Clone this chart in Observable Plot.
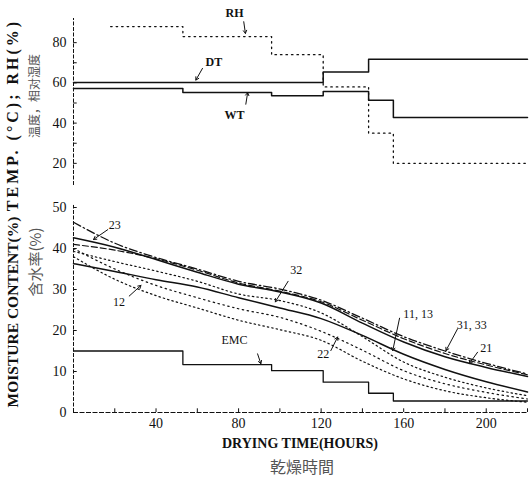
<!DOCTYPE html>
<html><head><meta charset="utf-8">
<script src="https://cdn.jsdelivr.net/npm/d3@7"></script>
<script src="https://cdn.jsdelivr.net/npm/@observablehq/plot@0.6"></script>
<style>
body{margin:0;background:#fff;}
#wrap{position:relative;width:529px;height:478px;overflow:hidden;background:#fff;font-family:"Liberation Serif",serif;color:#111;}
#wrap svg{overflow:visible;}
.abs{position:absolute;}
.vt{position:absolute;white-space:nowrap;transform:translate(-50%,-50%) rotate(-90deg);}
.ht{position:absolute;white-space:nowrap;transform:translate(-50%,-50%);}
</style></head><body>
<div id="wrap">
  <div id="top" class="abs" style="left:0;top:0"></div>
  <div id="bot" class="abs" style="left:0;top:190px"></div>
  <div class="vt" style="left:13px;top:115px;font-size:16px;font-weight:bold;letter-spacing:3px">TEMP. (°C); RH(%)</div>
  <div class="vt" style="left:33px;top:96px;font-size:12px;color:#555;font-family:'Noto Sans CJK SC'">温度，相对湿度</div>
  <div class="vt" style="left:13px;top:312px;font-size:15.5px;font-weight:bold;letter-spacing:0px">MOISTURE CONTENT(%)</div>
  <div class="vt" style="left:34px;top:262px;font-size:15px;color:#555;font-family:'Noto Sans CJK SC'">含水率(%)</div>
  <div class="ht" style="left:300px;top:444px;font-size:14px;font-weight:bold;letter-spacing:0px">DRYING TIME(HOURS)</div>
  <div class="ht" style="left:302px;top:466px;font-size:16px;color:#555;font-family:'Noto Sans CJK TC'">乾燥時間</div>
</div>
<script>
// ---- top panel: kiln schedule (step values) ----
const stepHours = [0, 53, 96, 121, 143, 155, 220];
const rhHours   = [18, 53, 96, 121, 143, 155, 220];
const rh  = [88, 83, 74, 58, 35, 20, 20];
const dt  = [60.2, 60.2, 60.2, 65.4, 71.7, 71.7, 71.7];
const wt  = [57.2, 55.2, 53.6, 55.7, 51.4, 42.8, 42.8];
const topTicks = [20, 40, 60, 80];
const topMinorTicks = [20, 30, 40, 50, 60, 70, 80];

// ---- bottom panel: moisture content curves ----
const hours = [0, 20, 40, 60, 80, 100, 120, 140, 160, 180, 200, 220];
const mcDashDot = [46.4, 41.3, 37.8, 35.0, 32.0, 30.1, 27.4, 23.0, 18.5, 15.0, 12.0, 9.4];   // 31,33
const mcDashed  = [41.0, 39.6, 37.5, 34.7, 31.6, 29.6, 27.0, 22.5, 18.0, 14.4, 11.6, 9.2];
const mcSolidA  = [42.6, 40.3, 37.3, 34.2, 31.3, 29.4, 26.7, 21.8, 17.2, 13.6, 11.0, 8.8];   // 23,21
const mcSolidB  = [36.3, 34.4, 32.4, 30.6, 28.0, 25.5, 22.9, 18.8, 14.2, 10.5, 7.5, 5.0];    // 32,11,13
const mcDotA    = [39.3, 36.8, 34.5, 32.0, 28.9, 27.3, 24.3, 18.5, 12.3, 8.6, 6.0, 4.1];
const mcDotB    = [40.0, 35.0, 31.0, 28.0, 25.3, 23.2, 19.8, 15.2, 10.2, 7.0, 4.9, 3.3];    // 12,22
const mcDotC    = [38.0, 32.5, 28.5, 25.5, 22.5, 20.2, 17.6, 12.5, 8.2, 5.3, 3.6, 2.5];
const emc = [15.0, 11.7, 10.2, 7.4, 4.7, 2.8, 2.8];
const xTicks = [40, 80, 120, 160, 200];
const xMinorTicks = [20, 40, 60, 80, 100, 120, 140, 160, 180, 200, 220];
const yTicks = [0, 10, 20, 30, 40, 50];

// ---- annotations ----
const topLabels = [
  {t: "RH", h: 78, v: 94.5},
  {t: "DT", h: 68, v: 70.3},
  {t: "WT", h: 78, v: 43.8}
];
const topArrows = [
  {h1: 82.5, v1: 90.4, h2: 83.3, v2: 84.6},
  {h1: 62.5, v1: 67.2, h2: 59.3, v2: 61.4},
  {h1: 83.5, v1: 49.4, h2: 84.4, v2: 55.2}
];
const botLabels = [
  {t: "23", h: 20, v: 45.6},
  {t: "12", h: 22, v: 27.0},
  {t: "32", h: 108, v: 34.6},
  {t: "22", h: 121, v: 14.2},
  {t: "11, 13", h: 167, v: 24.0},
  {t: "31, 33", h: 193, v: 21.4},
  {t: "21", h: 200, v: 15.6},
  {t: "EMC", h: 78, v: 17.6}
];
const botArrows = [
  {h1: 16.6, v1: 44.6, h2: 9.7, v2: 42.2},
  {h1: 27, v1: 28.4, h2: 32.7, v2: 31.0},
  {h1: 104, v1: 32.0, h2: 97.8, v2: 27.0},
  {h1: 124.7, v1: 15.1, h2: 128, v2: 18.4},
  {h1: 158, v1: 23.0, h2: 154.7, v2: 15.1},
  {h1: 186.1, v1: 20.4, h2: 180.5, v2: 15.1},
  {h1: 195.8, v1: 14.7, h2: 191.8, v2: 11.9},
  {h1: 89.2, v1: 14.3, h2: 90.8, v2: 11.9}
];

const rows = (xs, ys) => xs.map((h, i) => ({h, v: ys[i]}));
const ink = "#111";
const baseStyle = {fontFamily: "Liberation Serif, serif", fontSize: "14px", color: ink, background: "transparent"};

const topPlot = Plot.plot({
  width: 529, height: 190,
  marginLeft: 73, marginRight: 2, marginTop: 18, marginBottom: 3,
  x: {domain: [0, 220], axis: null},
  y: {domain: [8, 92], ticks: topTicks, tickSize: 0, tickPadding: 7, label: null},
  style: baseStyle,
  marks: [
    Plot.ruleX([0], {y1: 9, y2: 92, stroke: ink, strokeDasharray: "4,1.5"}),
    Plot.ruleY(topMinorTicks, {x1: 0, x2: 1.8, stroke: ink}),
    Plot.line(rows(rhHours, rh), {x: "h", y: "v", curve: "step-after", stroke: ink, strokeWidth: 1.3, strokeDasharray: "1.5,4"}),
    Plot.line(rows(stepHours, dt), {x: "h", y: "v", curve: "step-after", stroke: ink, strokeWidth: 1.5}),
    Plot.line(rows(stepHours, wt), {x: "h", y: "v", curve: "step-after", stroke: ink, strokeWidth: 1.5}),
    Plot.text(topLabels, {x: "h", y: "v", text: "t", fontSize: 12, fontWeight: "bold", fill: ink}),
    Plot.arrow(topArrows, {x1: "h1", y1: "v1", x2: "h2", y2: "v2", stroke: ink, strokeWidth: 1, headLength: 5})
  ]
});
document.getElementById("top").appendChild(topPlot);

const curve = "monotone-x";
const botPlot = Plot.plot({
  width: 529, height: 250,
  marginLeft: 73, marginRight: 2, marginTop: 17, marginBottom: 28,
  x: {domain: [0, 220], ticks: xTicks, tickSize: 0, tickPadding: 6, label: null},
  y: {domain: [0, 50], ticks: yTicks, tickSize: 0, tickPadding: 7, label: null},
  style: baseStyle,
  marks: [
    Plot.ruleX([0], {y1: 0, y2: 50.5, stroke: ink, strokeDasharray: "4,1.5"}),
    Plot.ruleY([0], {x1: 0, x2: 220, stroke: ink, strokeDasharray: "5,1.5"}),
    Plot.ruleX(xMinorTicks, {y1: 0, y2: 0.9, stroke: ink}),
    Plot.ruleY(yTicks, {x1: 0, x2: 1.8, stroke: ink}),
    Plot.line(rows(hours, mcDashDot), {x: "h", y: "v", curve, stroke: ink, strokeWidth: 1.3, strokeDasharray: "8,3,1.5,3"}),
    Plot.line(rows(hours, mcDashed), {x: "h", y: "v", curve, stroke: ink, strokeWidth: 1.2, strokeDasharray: "6,3"}),
    Plot.line(rows(hours, mcSolidA), {x: "h", y: "v", curve, stroke: ink, strokeWidth: 1.5}),
    Plot.line(rows(hours, mcSolidB), {x: "h", y: "v", curve, stroke: ink, strokeWidth: 1.5}),
    Plot.line(rows(hours, mcDotA), {x: "h", y: "v", curve, stroke: ink, strokeWidth: 1.2, strokeDasharray: "1.5,3"}),
    Plot.line(rows(hours, mcDotB), {x: "h", y: "v", curve, stroke: ink, strokeWidth: 1.2, strokeDasharray: "1.5,3.5"}),
    Plot.line(rows(hours, mcDotC), {x: "h", y: "v", curve, stroke: ink, strokeWidth: 1.2, strokeDasharray: "1.5,3"}),
    Plot.line(rows(stepHours, emc), {x: "h", y: "v", curve: "step-after", stroke: ink, strokeWidth: 1.3}),
    Plot.text(botLabels, {x: "h", y: "v", text: "t", fontSize: 12, fill: ink}),
    Plot.arrow(botArrows, {x1: "h1", y1: "v1", x2: "h2", y2: "v2", stroke: ink, strokeWidth: 1, headLength: 5})
  ]
});
document.getElementById("bot").appendChild(botPlot);
</script>
</body></html>
